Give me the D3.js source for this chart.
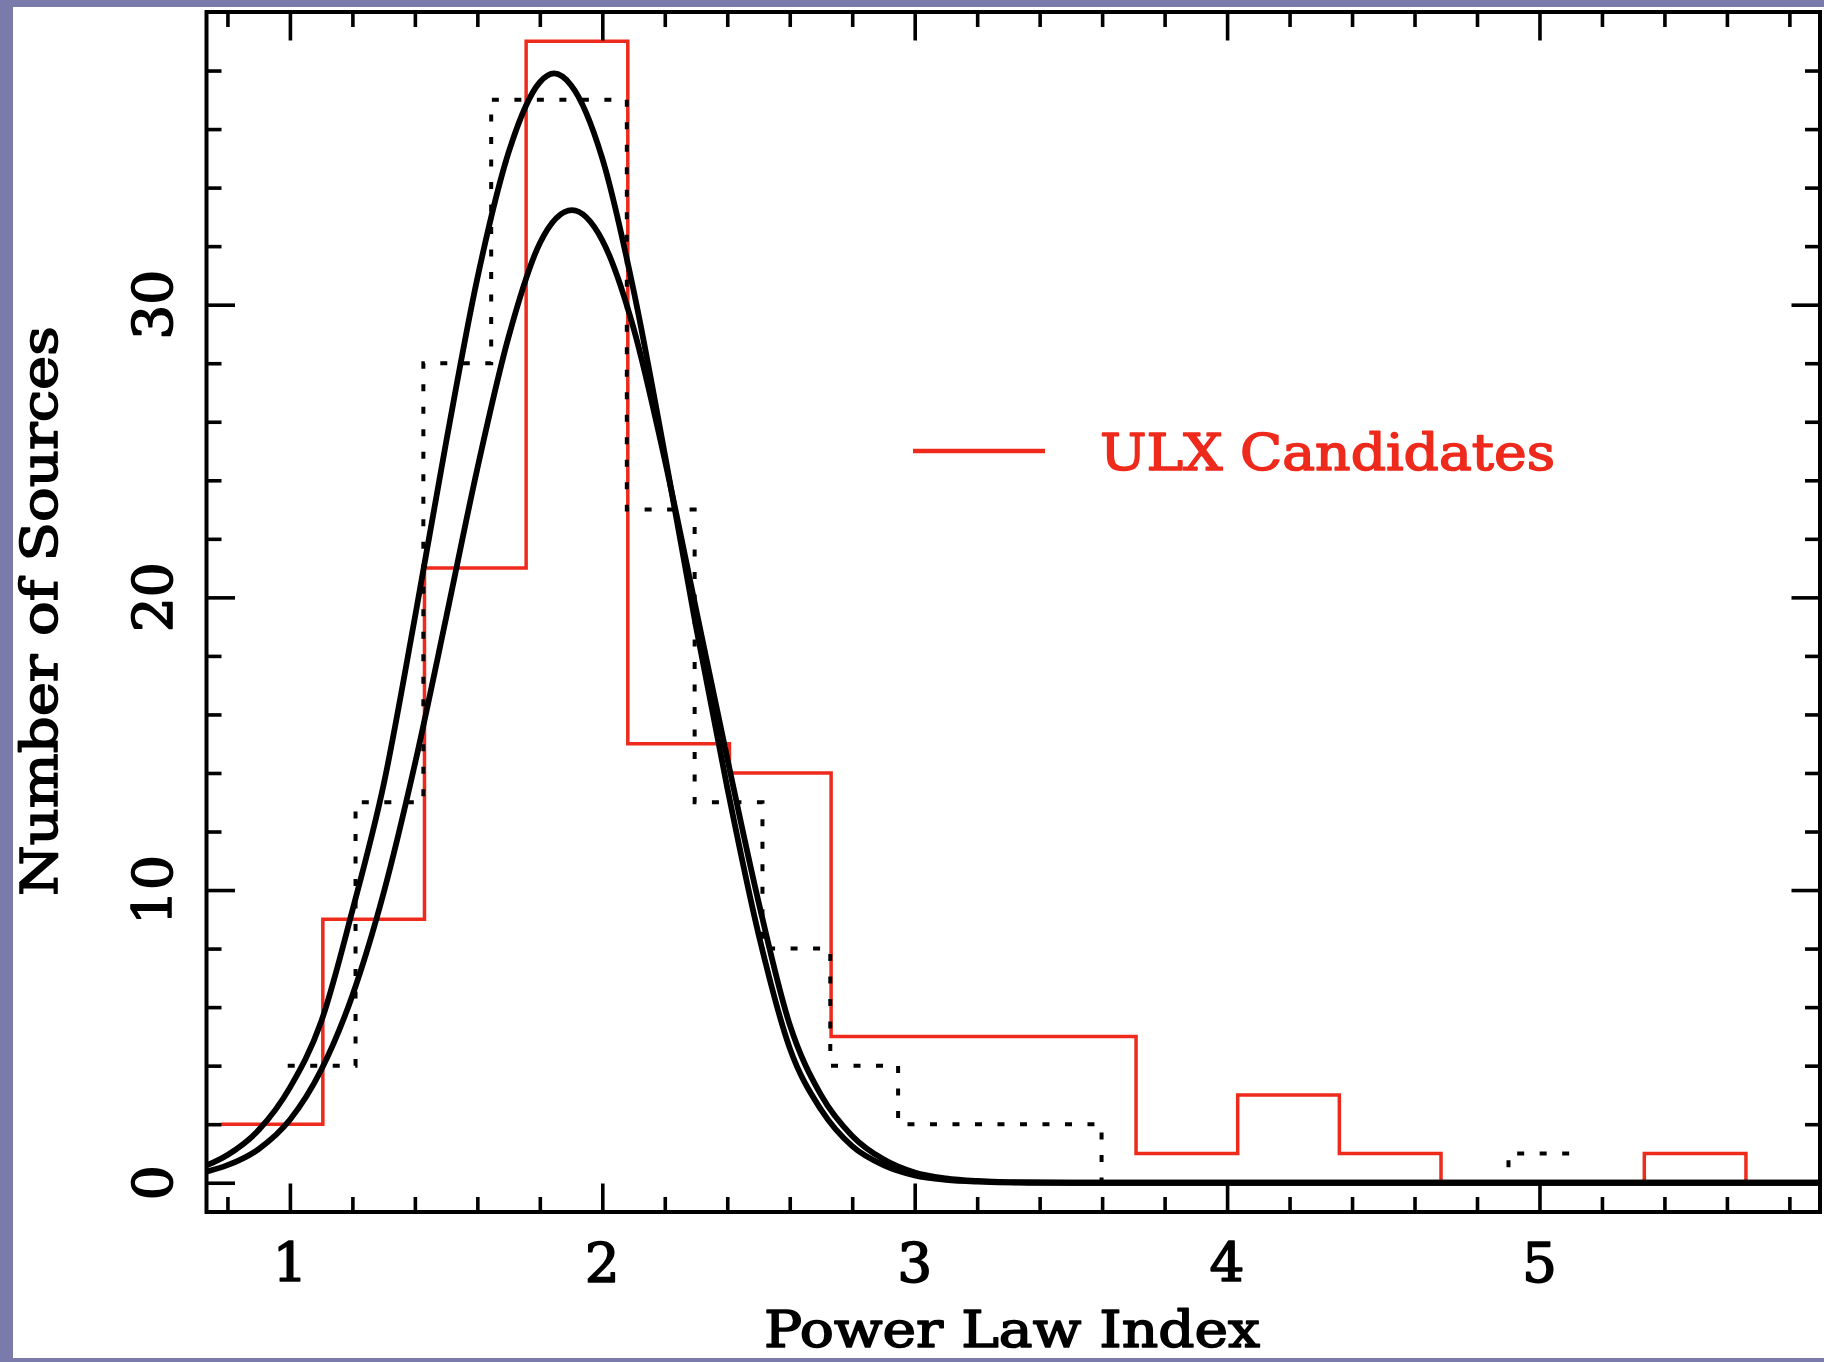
<!DOCTYPE html>
<html>
<head>
<meta charset="utf-8">
<script src="https://cdn.jsdelivr.net/npm/d3@7"></script>
<style>
  html, body { margin: 0; padding: 0; background: #7b7bab; overflow: hidden; }
  svg { display: block; }
</style>
</head>
<body>
<script>
// ---- data -------------------------------------------------------------
// ULX candidate histogram (solid red): first bin edge, bin width, counts
const ulxBinStart = 0.780;
const ulxBinWidth = 0.3254;
const ulxCounts = [2, 9, 21, 39, 15, 14, 5, 5, 5, 1, 3, 1, 0, 0, 1, 0];

// comparison sample histogram (dotted black)
const refBinStart = 0.993;
const refBinWidth = 0.2171;
const refCounts = [4, 13, 28, 37, 37, 23, 13, 8, 4, 2, 2, 2, 0, 0, 0, 0, 0, 0, 1];

// fitted distribution, taller curve
const fitAx = [0.733, 0.8, 0.9, 1.0, 1.1, 1.2, 1.3, 1.4, 1.5, 1.6, 1.7, 1.8, 1.846, 1.9, 2.0,
               2.1, 2.2, 2.3, 2.4, 2.5, 2.6, 2.7, 2.8, 2.9, 3.0, 3.1, 3.2, 3.4, 5.898];
const fitAy = [0.59, 0.95, 1.8, 3.25, 5.5, 9.3, 13.6, 19.3, 25.3, 30.9, 35.2, 37.6, 37.9, 37.5, 35.0,
               30.5, 24.9, 19.0, 13.5, 8.5, 4.6, 2.5, 1.25, 0.6, 0.25, 0.1, 0.04, 0, 0];

// fitted distribution, lower curve
const fitBx = [0.733, 0.8, 0.9, 1.0, 1.1, 1.2, 1.3, 1.4, 1.5, 1.6, 1.7, 1.8, 1.903, 2.0,
               2.1, 2.2, 2.3, 2.4, 2.5, 2.6, 2.7, 2.8, 2.9, 3.0, 3.1, 3.2, 3.3, 3.5, 5.898];
const fitBy = [0.38, 0.6, 1.15, 2.15, 3.85, 6.4, 9.9, 14.3, 19.3, 24.4, 28.9, 32.1, 33.23, 32.2,
               29.2, 24.7, 19.6, 14.5, 9.6, 5.4, 3.0, 1.6, 0.8, 0.35, 0.15, 0.06, 0.02, 0, 0];

// axis labels
const xTickLabels = [1, 2, 3, 4, 5];
const yTickLabels = [0, 10, 20, 30];
const xTitle = "Power Law Index";
const yTitle = "Number of Sources";
const legendLabel = "ULX Candidates";

// ---- layout -----------------------------------------------------------
const W = 1824, H = 1362;
const frame = { left: 206.5, right: 1820, top: 12, bottom: 1212 };
const RED = "#ee2a1c";
const FONT = "DejaVu Serif";

const svg = d3.select("body").append("svg")
  .attr("width", W).attr("height", H);

svg.append("rect").attr("width", W).attr("height", H).attr("fill", "#7b7bab");
svg.append("rect").attr("x", 13).attr("y", 7)
  .attr("width", W - 13).attr("height", 1358 - 7).attr("fill", "#ffffff");

const x = d3.scaleLinear().domain([0.733, 5.898]).range([frame.left, frame.right]);
const y = d3.scaleLinear().domain([-1, 40]).range([frame.bottom, frame.top]);

svg.append("clipPath").attr("id", "plot-clip")
  .append("rect")
  .attr("x", frame.left).attr("y", frame.top)
  .attr("width", frame.right - frame.left).attr("height", frame.bottom - frame.top);

const plot = svg.append("g").attr("clip-path", "url(#plot-clip)");

// step outline for a histogram: horizontal at each count, verticals between bins
function histPoints(start, width, counts) {
  const pts = counts.map((c, i) => [start + i * width, c]);
  pts.push([start + counts.length * width, counts[counts.length - 1]]);
  return pts;
}
const stepLine = d3.line().x(d => x(d[0])).y(d => y(d[1])).curve(d3.curveStepAfter);

plot.append("path")
  .attr("d", stepLine(histPoints(ulxBinStart, ulxBinWidth, ulxCounts)))
  .attr("fill", "none").attr("stroke", RED).attr("stroke-width", 3.5)
  .attr("stroke-linejoin", "miter");

plot.append("path")
  .attr("d", stepLine(histPoints(refBinStart, refBinWidth, refCounts)))
  .attr("fill", "none").attr("stroke", "#000").attr("stroke-width", 4)
  .attr("stroke-dasharray", "7,15.5");

const fitLine = d3.line().x(d => x(d[0])).y(d => y(d[1])).curve(d3.curveMonotoneX);
[[fitAx, fitAy], [fitBx, fitBy]].forEach(([xs, ys]) => {
  plot.append("path")
    .attr("d", fitLine(xs.map((v, i) => [v, ys[i]])))
    .attr("fill", "none").attr("stroke", "#000").attr("stroke-width", 5.8)
    .attr("stroke-linejoin", "round").attr("stroke-linecap", "round");
});

// ---- axes -------------------------------------------------------------
const xMinor = d3.range(0.8, 5.81, 0.2).map(v => +v.toFixed(1)).filter(v => !Number.isInteger(v));
const yMinor = d3.range(2, 40, 2).filter(v => v % 10 !== 0);
const MAJOR = 28.5, MINOR = 15;

function addAxis(axisFn, scale, values, size, transform) {
  const g = svg.append("g").attr("transform", transform)
    .call(axisFn(scale).tickValues(values).tickSize(-size).tickFormat(""));
  g.select(".domain").remove();
  g.selectAll(".tick line").attr("stroke", "#000").attr("stroke-width", 3.6);
}
addAxis(d3.axisBottom, x, xMinor, MINOR, `translate(0,${frame.bottom})`);
addAxis(d3.axisBottom, x, xTickLabels, MAJOR, `translate(0,${frame.bottom})`);
addAxis(d3.axisTop, x, xMinor, MINOR, `translate(0,${frame.top})`);
addAxis(d3.axisTop, x, xTickLabels, MAJOR, `translate(0,${frame.top})`);
addAxis(d3.axisLeft, y, yMinor, MINOR, `translate(${frame.left},0)`);
addAxis(d3.axisLeft, y, yTickLabels, MAJOR, `translate(${frame.left},0)`);
addAxis(d3.axisRight, y, yMinor, MINOR, `translate(${frame.right},0)`);
addAxis(d3.axisRight, y, yTickLabels, MAJOR, `translate(${frame.right},0)`);

svg.append("rect")
  .attr("x", frame.left).attr("y", frame.top)
  .attr("width", frame.right - frame.left).attr("height", frame.bottom - frame.top)
  .attr("fill", "none").attr("stroke", "#000").attr("stroke-width", 4);

// text drawn with a thin outline of its own colour to give heavier strokes
function heavy(sel, color) {
  return sel.attr("font-family", FONT).attr("fill", color)
    .attr("stroke", color).attr("stroke-width", 1.6).attr("stroke-linejoin", "round");
}

// tick labels
heavy(svg.append("g").selectAll("text").data(xTickLabels).join("text"), "#000")
  .attr("x", d => x(d)).attr("y", 1282)
  .attr("text-anchor", "middle").attr("font-size", 55)
  .text(d => d);

heavy(svg.append("g").selectAll("text").data(yTickLabels).join("text"), "#000")
  .attr("transform", d => `translate(172,${y(d)}) rotate(-90)`)
  .attr("text-anchor", "middle").attr("font-size", 55)
  .text(d => d);

// axis titles
heavy(svg.append("text"), "#000")
  .attr("x", 1012).attr("y", 1347)
  .attr("text-anchor", "middle").attr("font-size", 50)
  .attr("textLength", 496).attr("lengthAdjust", "spacingAndGlyphs")
  .text(xTitle);

heavy(svg.append("text"), "#000")
  .attr("transform", "translate(57,611) rotate(-90)")
  .attr("text-anchor", "middle").attr("font-size", 51)
  .attr("textLength", 570).attr("lengthAdjust", "spacingAndGlyphs")
  .text(yTitle);

// legend
svg.append("line")
  .attr("x1", 913).attr("x2", 1045).attr("y1", 451).attr("y2", 451)
  .attr("stroke", RED).attr("stroke-width", 4.5);
heavy(svg.append("text"), RED)
  .attr("x", 1100).attr("y", 470).attr("font-size", 51)
  .attr("textLength", 455).attr("lengthAdjust", "spacingAndGlyphs")
  .text(legendLabel);
</script>
</body>
</html>
